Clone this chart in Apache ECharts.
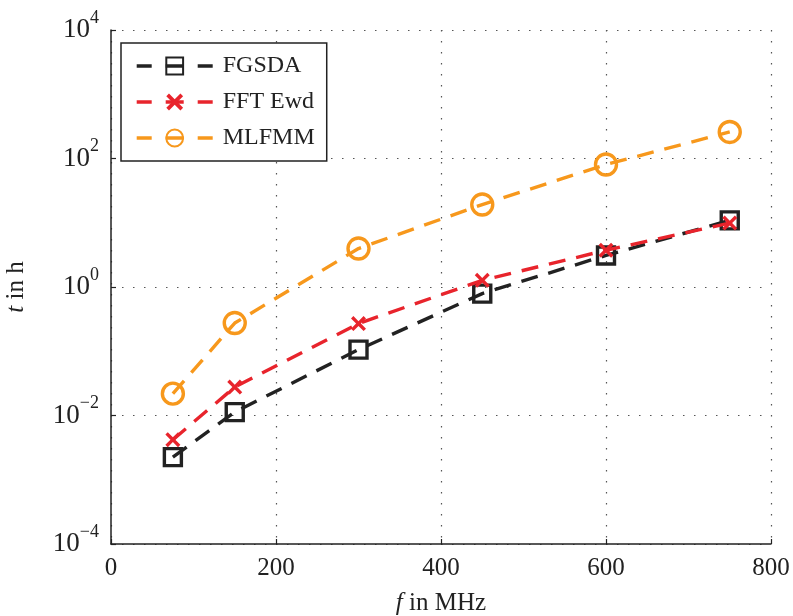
<!DOCTYPE html>
<html>
<head>
<meta charset="utf-8">
<script src="https://cdn.jsdelivr.net/npm/echarts@6/dist/echarts.min.js"></script>
<style>
html,body{margin:0;padding:0;background:#fff;}
#chart{width:793px;height:616px;}
</style>
</head>
<body>
<div id="chart"></div>
<script>
const freq = [75, 150, 300, 450, 600, 750];
const fgsda = [0.00225, 0.0113, 0.106, 0.79, 3.1, 10.9];
const fftEwd = [0.0042, 0.0277, 0.27, 1.27, 3.73, 9.9];
const mlfmm = [0.0219, 0.275, 3.97, 19.2, 80.6, 259];
const seriesNames = ['FGSDA', 'FFT Ewd', 'MLFMM'];
const xTicks = [0, 200, 400, 600, 800];

const FONT = 'Liberation Serif';
const TXT = '#222';
const pairs = arr => freq.map((f, i) => [f, arr[i]]);
const crossPath = 'path://M0,1.6L1.6,0L5,3.4L8.4,0L10,1.6L6.6,5L10,8.4L8.4,10L5,6.6L1.6,10L0,8.4L3.4,5Z';
const dash = [17, 11];

function mkSeries(name, data, color, symbol, size, filled, z) {
  return {
    name: name,
    type: 'line',
    data: pairs(data),
    symbol: symbol,
    symbolSize: size,
    showAllSymbol: true,
    z: z,
    lineStyle: { color: color, width: 3.4, type: dash },
    itemStyle: filled
      ? { color: color, borderWidth: 0 }
      : { color: 'rgba(0,0,0,0)', borderColor: color, borderWidth: 3.4 },
    emphasis: { disabled: true },
    animation: false
  };
}

const chart = echarts.init(document.getElementById('chart'), null, { renderer: 'canvas' });
chart.setOption({
  backgroundColor: '#fff',
  animation: false,
  textStyle: { fontFamily: FONT, color: TXT },
  grid: { left: 111, right: 22, top: 30, bottom: 72, containLabel: false, outerBoundsMode: 'none' },
  legend: {
    orient: 'vertical',
    left: 121, top: 43,
    backgroundColor: '#fff',
    borderColor: '#222', borderWidth: 1.5, borderRadius: 0,
    padding: [10, 12, 10, 14],
    itemWidth: 76, itemHeight: 21, itemGap: 10,
    lineStyle: { type: [15, 14, 18, 14, 15], width: 3.4 },
    textStyle: { fontFamily: FONT, fontSize: 24, color: TXT, lineHeight: 26, padding: [0, 0, 0, 5] },
    data: seriesNames
  },
  xAxis: {
    type: 'value', min: 0, max: 800, interval: 200,
    name: '{i|f} in MHz', nameLocation: 'middle', nameGap: 47,
    nameTextStyle: {
      fontFamily: FONT, fontSize: 25, color: TXT,
      rich: { i: { fontFamily: FONT, fontSize: 25, fontStyle: 'italic', color: TXT } }
    },
    axisLine: { lineStyle: { color: '#222', width: 1.5 } },
    axisTick: { inside: true, length: 5, lineStyle: { color: '#222', width: 1.2 } },
    axisLabel: { fontFamily: FONT, fontSize: 25, color: TXT, margin: 12 },
    splitLine: { show: true, lineStyle: { color: '#555', width: 1.2, type: [1.5, 9.5] } }
  },
  yAxis: {
    type: 'log', logBase: 100, min: 1e-4, max: 1e4,
    name: '{i|t} in h', nameLocation: 'middle', nameGap: 82, nameRotate: 90,
    nameTextStyle: {
      fontFamily: FONT, fontSize: 25, color: TXT,
      rich: { i: { fontFamily: FONT, fontSize: 25, fontStyle: 'italic', color: TXT } }
    },
    axisLine: { show: true, lineStyle: { color: '#222', width: 1.5 } },
    axisTick: { show: true, inside: true, length: 5, lineStyle: { color: '#222', width: 1.2 } },
    axisLabel: {
      margin: 12,
      formatter: function (v) {
        const e = Math.round(Math.log10(v));
        const s = e < 0 ? '\u2212' + Math.abs(e) : String(e);
        return '{b|10}{s|' + s + '}';
      },
      rich: {
        b: { fontFamily: FONT, fontSize: 27, color: TXT, lineHeight: 42 },
        s: { fontFamily: FONT, fontSize: 18, color: TXT, lineHeight: 18, verticalAlign: 'top' }
      }
    },
    splitLine: { show: true, lineStyle: { color: '#555', width: 1.2, type: [1.5, 9.5] } }
  },
  series: [
    mkSeries(seriesNames[0], fgsda, '#222222', 'rect', 17, false, 2),
    mkSeries(seriesNames[1], fftEwd, '#e8242c', crossPath, 15, true, 3),
    mkSeries(seriesNames[2], mlfmm, '#f7981c', 'circle', 21, false, 4)
  ]
});
</script>
</body>
</html>
